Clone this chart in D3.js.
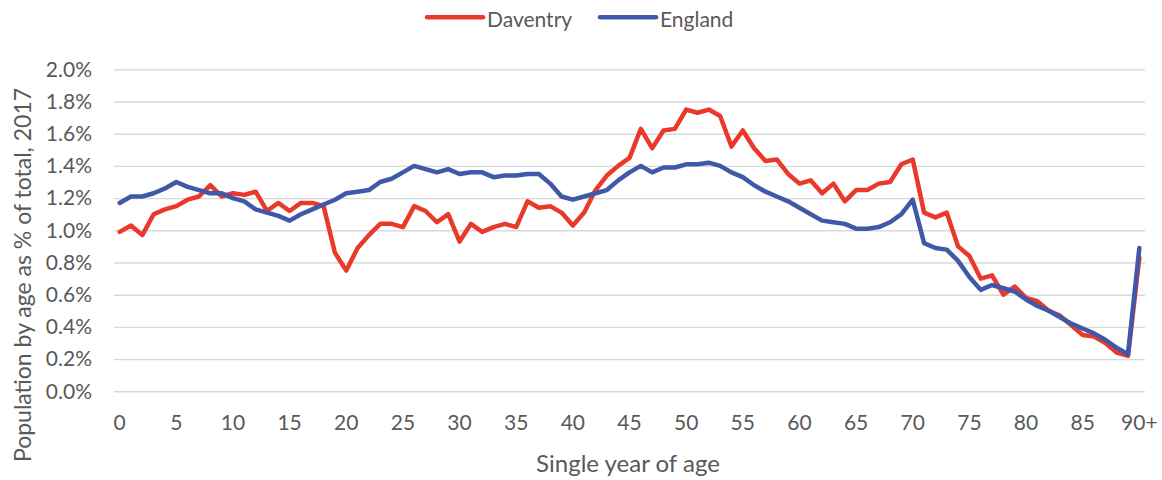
<!DOCTYPE html>
<html>
<head>
<meta charset="utf-8">
<script src="https://cdn.jsdelivr.net/npm/d3@7"></script>
<style>
  html, body { margin: 0; padding: 0; background: #ffffff; }
  svg { display: block; }
  text { font-family: Lato, "Open Sans", sans-serif; fill: #595959; }
</style>
</head>
<body>
<svg id="chart" width="1162" height="480"></svg>
<script>
// Single year of age, 0 to 90+
const ages = d3.range(0, 91);
const ageLabels = ages.map(a => a === 90 ? "90+" : String(a));

// Population by age as % of total, 2017
const daventry = [
  0.99, 1.03, 0.97, 1.10, 1.13, 1.15, 1.19, 1.21, 1.28, 1.21,
  1.23, 1.22, 1.24, 1.12, 1.17, 1.12, 1.17, 1.17, 1.15, 0.86,
  0.75, 0.89, 0.97, 1.04, 1.04, 1.02, 1.15, 1.12, 1.05, 1.10,
  0.93, 1.04, 0.99, 1.02, 1.04, 1.02, 1.18, 1.14, 1.15, 1.11,
  1.03, 1.11, 1.25, 1.34, 1.40, 1.45, 1.63, 1.51, 1.62, 1.63,
  1.75, 1.73, 1.75, 1.71, 1.52, 1.62, 1.51, 1.43, 1.44, 1.35,
  1.29, 1.31, 1.23, 1.29, 1.18, 1.25, 1.25, 1.29, 1.30, 1.41,
  1.44, 1.11, 1.08, 1.11, 0.90, 0.84, 0.70, 0.72, 0.60, 0.65,
  0.58, 0.56, 0.50, 0.47, 0.41, 0.35, 0.34, 0.30, 0.24, 0.22,
  0.83
];
const england = [
  1.17, 1.21, 1.21, 1.23, 1.26, 1.30, 1.27, 1.25, 1.23, 1.23,
  1.20, 1.18, 1.13, 1.11, 1.09, 1.06, 1.10, 1.13, 1.16, 1.19,
  1.23, 1.24, 1.25, 1.30, 1.32, 1.36, 1.40, 1.38, 1.36, 1.38,
  1.35, 1.36, 1.36, 1.33, 1.34, 1.34, 1.35, 1.35, 1.29, 1.21,
  1.19, 1.21, 1.23, 1.25, 1.31, 1.36, 1.40, 1.36, 1.39, 1.39,
  1.41, 1.41, 1.42, 1.40, 1.36, 1.33, 1.28, 1.24, 1.21, 1.18,
  1.14, 1.10, 1.06, 1.05, 1.04, 1.01, 1.01, 1.02, 1.05, 1.10,
  1.19, 0.92, 0.89, 0.88, 0.81, 0.71, 0.63, 0.66, 0.64, 0.62,
  0.57, 0.53, 0.50, 0.46, 0.42, 0.39, 0.36, 0.32, 0.27, 0.23,
  0.89
];
const yTicks = [0, 0.2, 0.4, 0.6, 0.8, 1.0, 1.2, 1.4, 1.6, 1.8, 2.0];

const seriesList = [
  { name: "Daventry", values: daventry, color: "#E8392A" },
  { name: "England",  values: england,  color: "#3F58A7" }
];

const svg = d3.select("#chart");
const plot = { left: 114, right: 1145, top: 69.3, bottom: 391.3 };

const x = d3.scaleBand().domain(ages).range([plot.left, plot.right]).padding(0);
const cx = a => x(a) + x.bandwidth() / 2;
const y = d3.scaleLinear().domain([0, 2.0]).range([plot.bottom, plot.top]);

// Horizontal gridlines and y tick labels
const yAxis = d3.axisLeft(y)
  .tickValues(yTicks)
  .tickSize(-(plot.right - plot.left))
  .tickPadding(22)
  .tickFormat(d => d.toFixed(1) + "%");
const gy = svg.append("g")
  .attr("transform", `translate(${plot.left},0)`)
  .call(yAxis);
gy.select(".domain").remove();
gy.selectAll(".tick line").attr("stroke", "#D9D9D9").attr("stroke-width", 1.4);
gy.selectAll(".tick text")
  .attr("font-size", 21)
  .attr("fill", "#595959")
  .attr("font-family", "Lato, 'Open Sans', sans-serif");

// x tick labels every 5 years
const xAxis = d3.axisBottom(x)
  .tickValues(ages.filter(a => a % 5 === 0))
  .tickSize(0)
  .tickPadding(24)
  .tickFormat(a => ageLabels[a]);
const gx = svg.append("g")
  .attr("transform", `translate(0,${plot.bottom})`)
  .call(xAxis);
gx.select(".domain").remove();
gx.selectAll(".tick text")
  .attr("font-size", 21)
  .attr("fill", "#595959")
  .attr("font-family", "Lato, 'Open Sans', sans-serif");

// Series lines
const line = d3.line()
  .x((v, i) => cx(ages[i]))
  .y(v => y(v));

svg.append("g").selectAll("path")
  .data(seriesList)
  .join("path")
  .attr("d", s => line(s.values))
  .attr("fill", "none")
  .attr("stroke", s => s.color)
  .attr("stroke-width", 4.5)
  .attr("stroke-linejoin", "round")
  .attr("stroke-linecap", "round");

// Axis titles
svg.append("text")
  .attr("x", 628)
  .attr("y", 472)
  .attr("text-anchor", "middle")
  .attr("font-size", 24)
  .text("Single year of age");

svg.append("text")
  .attr("transform", "translate(31,275) rotate(-90)")
  .attr("text-anchor", "middle")
  .attr("font-size", 23)
  .text("Population by age as % of total, 2017");

// Legend
const legendItems = [
  { x0: 427, x1: 483, tx: 487 },
  { x0: 600, x1: 656, tx: 660 }
];
const lg = svg.append("g").selectAll("g")
  .data(seriesList)
  .join("g");
lg.append("line")
  .attr("x1", (s, i) => legendItems[i].x0)
  .attr("x2", (s, i) => legendItems[i].x1)
  .attr("y1", 17.3)
  .attr("y2", 17.3)
  .attr("stroke", s => s.color)
  .attr("stroke-width", 4.5)
  .attr("stroke-linecap", "round");
lg.append("text")
  .attr("x", (s, i) => legendItems[i].tx)
  .attr("y", 26.5)
  .attr("font-size", 21)
  .text(s => s.name);
</script>
</body>
</html>
